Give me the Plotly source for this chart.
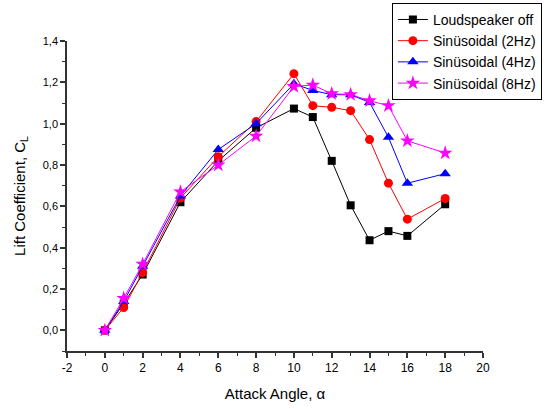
import plotly.graph_objects as go

angles = [0, 1, 2, 4, 6, 8, 10, 11, 12, 13, 14, 15, 16, 18]
off = [0.0, 0.13, 0.27, 0.62, 0.82, 0.98, 1.073, 1.032, 0.82, 0.605, 0.436, 0.48, 0.457, 0.61]
hz2 = [0.0, 0.11, 0.28, 0.64, 0.84, 1.01, 1.242, 1.087, 1.079, 1.063, 0.923, 0.712, 0.538, 0.638]
hz4 = [0.0, 0.14, 0.31, 0.65, 0.875, 1.0, 1.193, 1.161, 1.14, 1.14, 1.103, 0.934, 0.712, 0.758]
hz8 = [0.0, 0.155, 0.32, 0.67, 0.80, 0.94, 1.18, 1.187, 1.145, 1.141, 1.111, 1.087, 0.917, 0.858]

names = ["Loudspeaker off", "Sinüsoidal (2Hz)", "Sinüsoidal (4Hz)", "Sinüsoidal (8Hz)"]
colors = ["#000000", "#ff0000", "#0000ff", "#ff00ff"]
symbols = ["square", "circle", "triangle-up", "star"]
sizes = [8, 9, 10, 11]

xtick_vals = [-2, 0, 2, 4, 6, 8, 10, 12, 14, 16, 18, 20]
xtick_text = ["-2", "0", "2", "4", "6", "8", "10", "12", "14", "16", "18", "20"]
ytick_vals = [0.0, 0.2, 0.4, 0.6, 0.8, 1.0, 1.2, 1.4]
ytick_text = ["0,0", "0,2", "0,4", "0,6", "0,8", "1,0", "1,2", "1,4"]

fig = go.Figure()
for ys, n, c, s, sz in zip([off, hz2, hz4, hz8], names, colors, symbols, sizes):
    fig.add_trace(go.Scatter(x=angles, y=ys, name=n, mode="lines+markers",
                             line=dict(color=c, width=1),
                             marker=dict(symbol=s, size=sz, color=c, line=dict(width=0))))

font = "Arial, Liberation Sans, sans-serif"
fig.update_layout(
    width=559, height=409,
    margin=dict(l=67, r=76, t=41, b=58, autoexpand=False),
    plot_bgcolor="white", paper_bgcolor="white",
    font=dict(family=font, size=11, color="#000"),
    showlegend=True,
    legend=dict(x=0.781, y=1.123, xanchor="left", yanchor="top",
                bordercolor="#000", borderwidth=1, bgcolor="white",
                font=dict(size=14, family=font), tracegroupgap=0,
                itemwidth=30),
    xaxis=dict(range=[-2, 20], tickvals=xtick_vals, ticktext=xtick_text,
               showgrid=False, zeroline=False, showline=True, linecolor="#333", linewidth=1.5,
               ticks="outside", ticklen=5, tickwidth=1.5, tickcolor="#333",
               minor=dict(dtick=1, tick0=0, ticks="outside", ticklen=3, tickwidth=1, tickcolor="#333"),
               tickfont=dict(size=12),
               title=dict(text="Attack Angle, α", font=dict(size=15), standoff=14)),
    yaxis=dict(range=[-0.1, 1.4], tickvals=ytick_vals, ticktext=ytick_text,
               showgrid=False, zeroline=False, showline=True, linecolor="#333", linewidth=1.5,
               ticks="outside", ticklen=5, tickwidth=1.5, tickcolor="#333",
               minor=dict(dtick=0.1, tick0=0, ticks="outside", ticklen=3, tickwidth=1, tickcolor="#333"),
               tickfont=dict(size=11),
               title=dict(text="Lift Coefficient, C<sub>L</sub>", font=dict(size=15), standoff=14)),
)
fig.write_html("out.html")
